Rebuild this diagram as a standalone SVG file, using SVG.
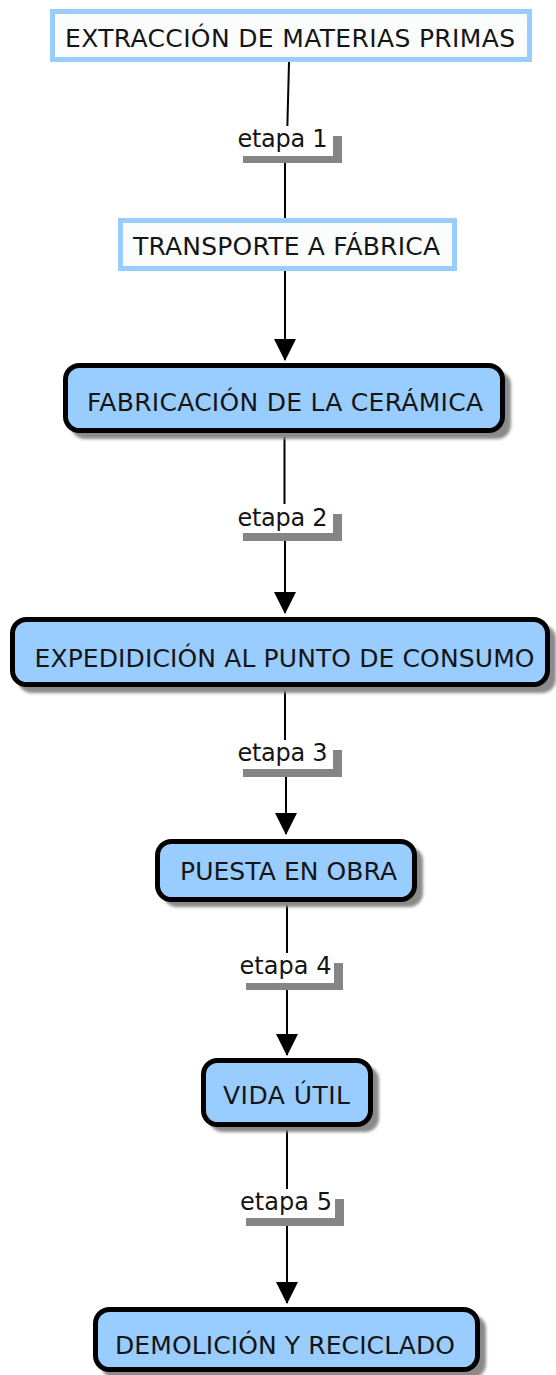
<svg xmlns="http://www.w3.org/2000/svg" width="556" height="1375" viewBox="0 0 556 1375">
<style>
.txt{font-family:"DejaVu Sans","Verdana",sans-serif;font-size:25px;fill:#151515;text-anchor:middle}
.lbl{font-family:"DejaVu Sans","Verdana",sans-serif;font-size:24px;fill:#151515;text-anchor:middle}
.plain{fill:#fbfdfd;stroke:#99ccff;stroke-width:5}
.conc{fill:#99ccff;stroke:#000;stroke-width:5}
.shadow{fill:#8a8a8a;filter:url(#blur)}
.lshadow{fill:#858585}
.lbox{fill:#ffffff}
.edge{stroke:#000;stroke-width:2;fill:none}
.arrow{stroke:#000;stroke-width:2;fill:none;marker-end:url(#ah)}
</style>
<defs>
<filter id="blur" x="-5%" y="-20%" width="110%" height="140%"><feGaussianBlur stdDeviation="1.5"/></filter>
<marker id="ah" markerUnits="userSpaceOnUse" markerWidth="22" markerHeight="22" refX="21" refY="11" orient="auto"><path d="M0,0 L22,11 L0,22 z" fill="#000"/></marker>
</defs>
<rect width="556" height="1375" fill="#ffffff"/>
<g id="connectors">
<line class="edge" x1="289" y1="62" x2="287" y2="140"/>
<line class="edge" x1="285" y1="150" x2="285" y2="219"/>
<line class="arrow" x1="285" y1="271" x2="285" y2="360"/>
<line class="edge" x1="284.5" y1="433" x2="284.5" y2="520"/>
<line class="arrow" x1="285" y1="530" x2="285" y2="613"/>
<line class="edge" x1="285" y1="687" x2="285" y2="755"/>
<line class="arrow" x1="286" y1="765" x2="286" y2="834"/>
<line class="edge" x1="287" y1="902" x2="287" y2="970"/>
<line class="arrow" x1="287" y1="980" x2="287" y2="1055"/>
<line class="edge" x1="287" y1="1127" x2="287" y2="1205"/>
<line class="arrow" x1="287" y1="1215" x2="287" y2="1303"/>
</g>
<g id="label1">
<rect class="lshadow" x="243" y="136" width="99" height="27"/>
<rect class="lbox" x="233" y="126" width="100" height="30"/>
<text class="lbl" x="282.5" y="147" textLength="90">etapa 1</text>
</g>
<g id="label2">
<rect class="lshadow" x="243" y="514" width="99" height="27"/>
<rect class="lbox" x="233" y="504" width="100" height="29"/>
<text class="lbl" x="282.5" y="526" textLength="90">etapa 2</text>
</g>
<g id="label3">
<rect class="lshadow" x="243" y="750" width="99" height="27"/>
<rect class="lbox" x="233" y="740" width="100" height="29"/>
<text class="lbl" x="282.5" y="761" textLength="90">etapa 3</text>
</g>
<g id="label4">
<rect class="lshadow" x="246" y="963" width="97" height="27"/>
<rect class="lbox" x="235" y="953" width="99" height="30"/>
<text class="lbl" x="285.5" y="974" textLength="92">etapa 4</text>
</g>
<g id="label5">
<rect class="lshadow" x="246" y="1199" width="98" height="27"/>
<rect class="lbox" x="235" y="1189" width="100" height="29"/>
<text class="lbl" x="286" y="1210" textLength="92">etapa 5</text>
</g>
<g id="node1">
<rect class="plain" x="52.5" y="11.5" width="477" height="48"/>
<text class="txt" x="290" y="47" textLength="450">EXTRACCIÓN DE MATERIAS PRIMAS</text>
</g>
<g id="node2">
<rect class="plain" x="120.5" y="220.5" width="334" height="48"/>
<text class="txt" x="286.5" y="255" textLength="307">TRANSPORTE A FÁBRICA</text>
</g>
<g id="node3">
<rect class="shadow" x="71" y="371" width="440" height="68" rx="14"/>
<rect class="conc" x="65.5" y="365.5" width="437" height="65" rx="14"/>
<text class="txt" x="285" y="411" textLength="396">FABRICACIÓN DE LA CERÁMICA</text>
</g>
<g id="node4">
<rect class="shadow" x="18" y="625" width="538" height="68" rx="14"/>
<rect class="conc" x="12.5" y="619.5" width="535" height="65" rx="14"/>
<text class="txt" x="284.5" y="667" textLength="500">EXPEDIDICIÓN AL PUNTO DE CONSUMO</text>
</g>
<g id="node5">
<rect class="shadow" x="163" y="847" width="260" height="60" rx="14"/>
<rect class="conc" x="157.5" y="841.5" width="257" height="58" rx="14"/>
<text class="txt" x="288.5" y="880" textLength="217">PUESTA EN OBRA</text>
</g>
<g id="node6">
<rect class="shadow" x="209" y="1066" width="170" height="66" rx="14"/>
<rect class="conc" x="203.5" y="1060.5" width="167" height="64" rx="14"/>
<text class="txt" x="286.5" y="1104" textLength="127">VIDA ÚTIL</text>
</g>
<g id="node7">
<rect class="shadow" x="101" y="1315" width="385" height="63" rx="14"/>
<rect class="conc" x="95.5" y="1309.5" width="382" height="60" rx="14"/>
<text class="txt" x="285" y="1354" textLength="340">DEMOLICIÓN Y RECICLADO</text>
</g>
</svg>
